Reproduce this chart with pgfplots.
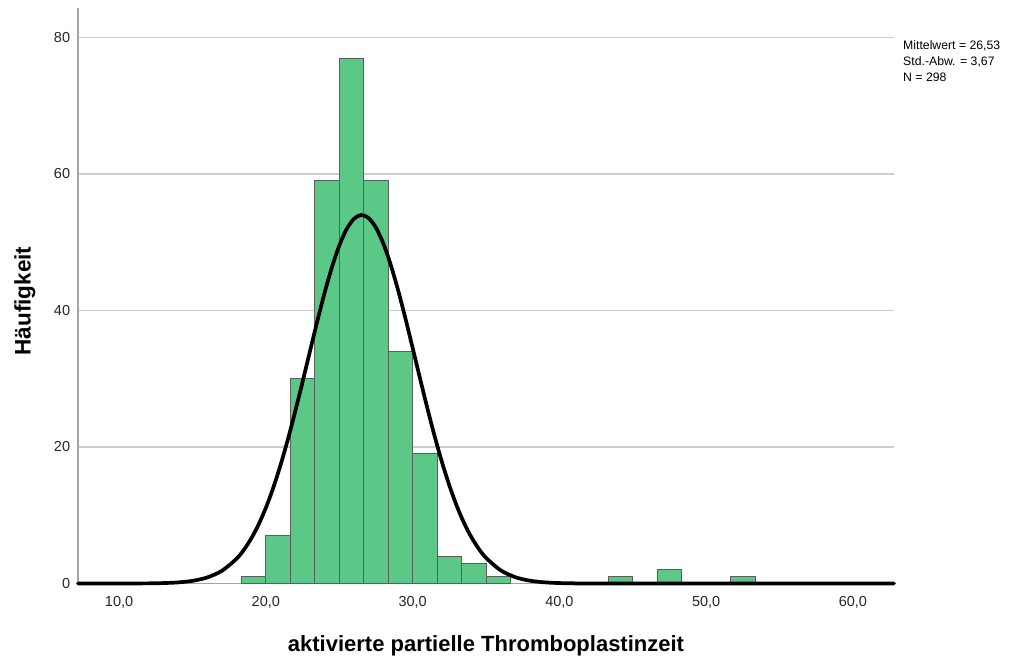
\documentclass[border=0pt]{standalone}
\usepackage{pgfplots}
\pgfplotsset{compat=1.18}
\usepackage{fontspec}
\setmainfont{Liberation Sans}
\definecolor{barfill}{RGB}{92,200,136}
\definecolor{baredge}{RGB}{90,95,92}
\definecolor{gridc}{RGB}{205,205,205}
\definecolor{axisc}{RGB}{165,165,165}
\begin{document}
\begin{tikzpicture}
\path[use as bounding box] (0,0) rectangle (1029bp,657bp);
\begin{axis}[
  at={(78bp,73.5bp)}, anchor=south west,
  width=816bp, height=575bp, scale only axis,
  xmin=7.2, xmax=62.8, ymin=0, ymax=84.25,
  axis x line*=bottom, axis y line*=left,
  axis line style={draw=axisc, line width=1.5bp, -},
  major tick length=0pt,
  xtick={10,20,30,40,50,60},
  xticklabels={{10,0},{20,0},{30,0},{40,0},{50,0},{60,0}},
  ytick={0,20,40,60,80},
  ymajorgrids, xmajorgrids=false,
  major grid style={draw=gridc, line width=1.5bp},
  tick label style={font=\fontsize{14.5bp}{17bp}\selectfont, text=black!85},
  xticklabel style={inner sep=0pt, anchor=north, yshift=-12.5bp},
  yticklabel style={inner sep=0pt, anchor=east, xshift=-7.7bp},
  /pgf/number format/assume math mode=true,
  clip=false,
]
\addplot[ybar interval, fill=barfill, draw=baredge, line width=0.9bp]
  coordinates {(18.3333,1) (20,7) (21.6667,30) (23.3333,59) (25,77) (26.6667,59)
               (28.3333,34) (30,19) (31.6667,4) (33.3333,3) (35,1) (36.6667,0)};
\addplot[ybar interval, fill=barfill, draw=baredge, line width=0.9bp]
  coordinates {(43.3333,1) (45,0)};
\addplot[ybar interval, fill=barfill, draw=baredge, line width=0.9bp]
  coordinates {(46.6667,2) (48.3333,0)};
\addplot[ybar interval, fill=barfill, draw=baredge, line width=0.9bp]
  coordinates {(51.6667,1) (53.3333,0)};
\addplot[black, line width=3.7bp, smooth, line cap=round]
  coordinates {(7.2,0) (10,0.0) (12,0.021) (13,0.060) (14,0.159) (15,0.388) (16,0.881) (17,1.855)
               (18,3.62) (18.5,4.93) (19,6.58) (19.5,8.62) (20,11.09) (20.5,14.00) (21,17.35)
               (21.5,21.11) (22,25.21) (22.5,29.54) (23,33.99) (23.5,38.40) (24,42.57)
               (24.5,46.33) (25,49.50) (25.5,51.91) (26,53.43) (26.5,53.99) (27,53.55)
               (27.5,52.14) (28,49.83) (28.5,46.75) (29,43.05) (29.5,38.91) (30,34.53)
               (30.5,30.08) (31,25.72) (31.5,21.58) (32,17.78) (32.5,14.38) (33,11.41)
               (33.5,8.89) (34,6.80) (34.5,5.11) (35,3.76) (36,1.934) (37,0.922)
               (38,0.409) (39,0.168) (40,0.064) (41,0.023) (43,0.0) (62.8,0)};
\end{axis}
\node[anchor=base, font=\bfseries\fontsize{22bp}{26bp}\selectfont, inner sep=0pt] at (486bp,6bp) {aktivierte partielle Thromboplastinzeit};
\node[anchor=base, rotate=90, font=\bfseries\fontsize{22.5bp}{26bp}\selectfont, inner sep=0pt] at (30.7bp,356.1bp) {Häufigkeit};
\node[anchor=base west, inner sep=0pt, font=\fontsize{12.25bp}{16bp}\selectfont] at (903bp,607bp) {Mittelwert = 26,53};
\node[anchor=base west, inner sep=0pt, font=\fontsize{12.25bp}{16bp}\selectfont] at (903bp,591bp) {Std.-Abw. = 3,67};
\node[anchor=base west, inner sep=0pt, font=\fontsize{12.25bp}{16bp}\selectfont] at (903bp,575bp) {N = 298};
\end{tikzpicture}
\end{document}
